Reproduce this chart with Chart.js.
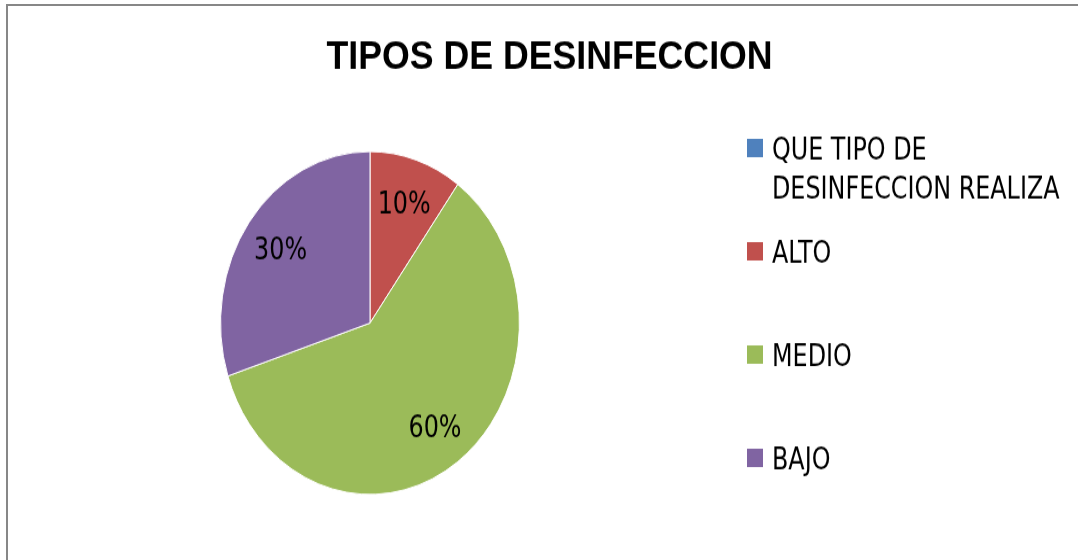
<!DOCTYPE html>
<html><head><meta charset="utf-8">
<script src="https://cdn.jsdelivr.net/npm/chart.js@4.4.1/dist/chart.umd.min.js"></script>
<style>
html,body{margin:0;padding:0;background:#fff;overflow:hidden;width:1078px;height:560px;}
#wrap{position:absolute;left:0;top:0;width:1078px;height:488px;transform:scaleY(1.1475);transform-origin:0 0;}
#frame{position:absolute;left:6px;top:4px;width:1200px;height:700px;border-top:2px solid #878787;border-left:2px solid #878787;pointer-events:none;}
</style></head>
<body>
<div id="wrap"><canvas id="c"></canvas></div>
<div id="frame"></div>
<script>
const chartTitle = 'TIPOS DE DESINFECCION';
const categories = [['QUE TIPO DE', 'DESINFECCION REALIZA'], 'ALTO', 'MEDIO', 'BAJO'];
const values = [0, 10, 60, 30];
const colors = ['#4F81BD', '#C0504D', '#9BBB59', '#8064A2'];

const narrowFont = '"DejaVu Sans Condensed", "Liberation Sans Narrow", "Liberation Sans", sans-serif';
const labelSize = 26.5;
const cap = labelSize * 0.729;

const overlay = {
  id: 'overlay',
  afterDraw(chart) {
    const ctx = chart.ctx;
    ctx.save();
    ctx.fillStyle = '#000';
    ctx.textBaseline = 'alphabetic';
    // title
    ctx.textAlign = 'center';
    ctx.font = 'bold 35.7px "Liberation Sans", Arial, sans-serif';
    ctx.fillText(chartTitle, 549.5, 59.8);
    // data labels
    const meta = chart.getDatasetMeta(0);
    const total = values.reduce((a, b) => a + b, 0);
    ctx.font = labelSize + 'px ' + narrowFont;
    meta.data.forEach((arc, i) => {
      if (!values[i]) return;
      const p = arc.getProps(['x', 'y', 'startAngle', 'endAngle', 'outerRadius'], true);
      const mid = (p.startAngle + p.endAngle) / 2;
      const r = p.outerRadius * 0.74;
      const x = p.x + Math.cos(mid) * r;
      const y = p.y + Math.sin(mid) * r;
      ctx.fillText(Math.round(values[i] / total * 100) + '%', x, y + cap / 2);
    });
    // legend
    ctx.textAlign = 'left';
    categories.forEach((lab, i) => {
      const cy = 129 + i * 90;
      ctx.fillStyle = colors[i];
      ctx.fillRect(747, cy - 8, 16, 16);
      ctx.fillStyle = '#000';
      const lines = Array.isArray(lab) ? lab : [lab];
      lines.forEach((ln, j) => ctx.fillText(ln, 772, cy + j * 34.4 + cap / 2));
    });
    ctx.restore();
  }
};

new Chart(document.getElementById('c'), {
  type: 'pie',
  data: {
    labels: categories,
    datasets: [{
      data: values,
      backgroundColor: colors,
      borderColor: '#ffffff',
      borderWidth: 1
    }]
  },
  options: {
    responsive: true,
    maintainAspectRatio: false,
    animation: false,
    layout: { padding: { left: 220, right: 558, top: 131.6, bottom: 56.6 } },
    plugins: {
      legend: { display: false },
      title: { display: false },
      tooltip: { enabled: false }
    }
  },
  plugins: [overlay]
});
</script>
</body></html>
